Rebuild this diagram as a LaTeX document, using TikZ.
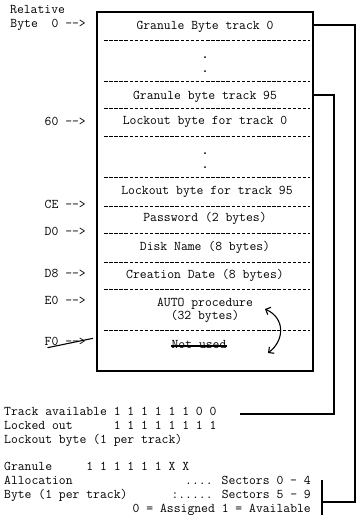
\documentclass[tikz,border=0pt]{standalone}
\usetikzlibrary{arrows.meta,positioning}

\begin{document}
\begin{tikzpicture}[x=1pt,y=-1pt,
    tt/.style={font=\fontsize{13.3}{13}\selectfont\ttfamily,inner sep=0pt},
    cell/.style={tt,anchor=center,text height=7pt,text depth=2pt},
    addr/.style={cell,anchor=east},
    note/.style={cell,anchor=west},
    sep/.style={line width=0.9pt,dash pattern=on 3.5pt off 1.6pt},
    link/.style={line width=2pt},
    strike/.style={line width=1.1pt},
    curl/.style={line width=1.1pt,{Straight Barb[length=4pt]}-{Straight Barb[length=4pt]}}
  ]
  \useasboundingbox (0,0) rectangle (356,515);

  % directory sector
  \node[draw,line width=2pt,minimum width=216pt,minimum height=359pt,inner sep=0pt] (dir) at (205,191.5) {};
  \foreach \y in {40,81,108,136,177,206,233,262,289,330}
    \draw[sep] (104,\y) -- (310,\y);
  \foreach \y in {57,71,153,167}
    \fill (205,\y) circle (1pt);

  \node[cell] (gt0)  at (205,27)  {Granule Byte track 0};
  \node[cell] (gt95) at (205,97)  {Granule byte track 95};
  \node[cell] (lt0)  at (205,122) {Lockout byte for track 0};
  \node[cell] (lt95) at (207,192) {Lockout byte for track 95};
  \node[cell] (pw)   at (205,219) {Password (2 bytes)};
  \node[cell] (dn)   at (205,248) {Disk Name (8 bytes)};
  \node[cell] (cd)   at (205,276) {Creation Date (8 bytes)};
  \node[tt,align=center] (auto) at (205,310) {AUTO procedure\\(32 bytes)};
  \node[cell] (nu)   at (199,346) {Not used};
  \draw[strike] (nu.west) -- (nu.east);

  \coordinate (ctop) at (265,309);
  \coordinate (cbot) at (268,353);
  \draw[curl] (ctop) .. controls (285,318) and (285,340) .. (cbot);

  % offsets
  \node[note] (rel) at (10,11) {Relative};
  \node[addr] (a00) at (86,25)  {Byte~~0 -{}->};
  \node[addr] (a60) at (86,123) {60 -{}->};
  \node[addr] (ace) at (86,206) {CE -{}->};
  \node[addr] (ad0) at (86,233) {D0 -{}->};
  \node[addr] (ad8) at (86,275) {D8 -{}->};
  \node[addr] (ae0) at (86,302) {E0 -{}->};
  \node[addr] (af0) at (86,343) {F0 -{}->};
  \draw[strike] ([xshift=3pt]af0.south west) -- ([xshift=7pt]af0.north east);

  % byte formats
  \node[note] (tav) at (4,413) {Track available 1 1 1 1 1 1 0 0};
  \node[note] (lko) at (4,427) {Locked out~~~~~~1 1 1 1 1 1 1 1};
  \node[note] (lkb) at (4,441) {Lockout byte (1 per track)};
  \node[note] (gra) at (4,468) {Granule~~~~~1 1 1 1 1 1 X X};
  \node[note] (alc) at (4,482) {Allocation};
  \node[note] (gbb) at (4,496) {Byte (1 per track)};
  \node[addr] (s04) at (311,482) {.... Sectors 0 - 4};
  \node[addr] (s59) at (311,496) {:..... Sectors 5 - 9};
  \node[addr] (key) at (311,510) {0 = Assigned 1 = Available};

  \coordinate (tavend) at (240,414);
  \coordinate (brk) at (322,502);
  \coordinate (brktop) at (322,480);
  \coordinate (brkbot) at (322,516);
  \draw[link] (brktop) -- (brkbot);

  \draw[link] ([yshift=2pt]gt0.east -| dir.east) -- ++(41,0) |- (brk);
  \draw[link] ([yshift=2pt]gt95.east -| dir.east) -- ++(20,0) |- (tavend);
\end{tikzpicture}
\end{document}
